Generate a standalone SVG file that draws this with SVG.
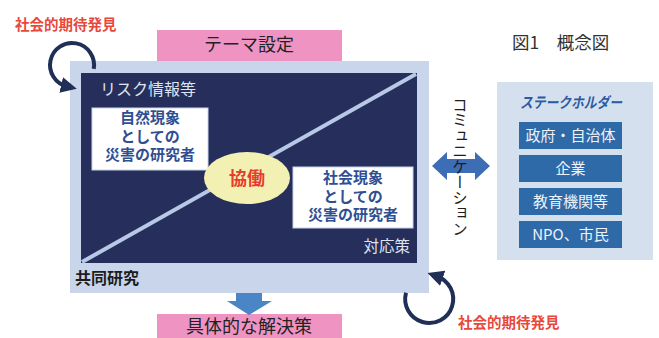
<svg xmlns="http://www.w3.org/2000/svg" width="659" height="338" viewBox="0 0 659 338">
<defs>
<style>
text{font-family:"Noto Sans CJK JP","Noto Sans CJK SC",sans-serif;}
.red{fill:#e8483b;font-weight:bold;font-size:14.5px;}
.wbox{fill:#ffffff;stroke:#c8d5ea;stroke-width:1;}
.wtxt{fill:#2f4f92;font-weight:bold;font-size:15px;text-anchor:middle;}
.pink{fill:#ee93c2;}
.bbox{fill:#2f6aa8;}
.btxt{fill:#eef2f8;font-size:15px;text-anchor:middle;}
.loop{fill:none;stroke:#1f2f55;stroke-width:4;}
</style>
<marker id="ah" markerWidth="4" markerHeight="4" refX="1.5" refY="2" orient="auto" markerUnits="strokeWidth">
<path d="M0,0 L4,2 L0,4 z" fill="#1f2f55"/>
</marker>
</defs>
<rect width="659" height="338" fill="#ffffff"/>

<g id="title">
<text x="512" y="49" font-size="17.5" fill="#333">図1　概念図</text>
</g>

<g id="theme">
<rect class="pink" x="157" y="30" width="185" height="32"/>
<text x="249" y="51" font-size="18" fill="#222" text-anchor="middle">テーマ設定</text>
</g>

<g id="kyodo">
<rect x="70" y="61" width="359" height="232" fill="#c8d5ea"/>
<rect x="81" y="73" width="336" height="190" fill="#262f5b"/>
<line x1="82" y1="262" x2="416" y2="74" stroke="#b7c9e6" stroke-width="4"/>
<text x="100" y="95" font-size="16" fill="#dde3ef">リスク情報等</text>
<text x="410" y="252" font-size="15.5" fill="#dde3ef" text-anchor="end">対応策</text>
<text x="75" y="284" font-size="16" font-weight="bold" fill="#1d1d1d">共同研究</text>
</g>

<g id="natural">
<rect class="wbox" x="92" y="108" width="116" height="62"/>
<text class="wtxt" x="150" y="123"><tspan x="150" y="123">自然現象</tspan><tspan x="150" y="141.5">としての</tspan><tspan x="150" y="160">災害の研究者</tspan></text>
</g>

<g id="social">
<rect class="wbox" x="293" y="167" width="120" height="61"/>
<text class="wtxt" x="353" y="183"><tspan x="353" y="183">社会現象</tspan><tspan x="353" y="201.5">としての</tspan><tspan x="353" y="220">災害の研究者</tspan></text>
</g>

<g id="collab">
<ellipse cx="247" cy="178" rx="43" ry="26" fill="#f3f0b4"/>
<text x="247" y="184.5" font-size="18" font-weight="bold" fill="#e63c2e" text-anchor="middle">協働</text>
</g>

<g id="solution">
<rect class="pink" x="157" y="314" width="185" height="30"/>
<text x="249" y="333" font-size="18" fill="#222" text-anchor="middle">具体的な解決策</text>
</g>

<g id="stakeholders">
<rect x="497" y="82" width="156" height="178" fill="#d5e0ef"/>
<text x="571" y="108" font-size="15" font-weight="bold" font-style="italic" fill="#2d5ba3" text-anchor="middle" textLength="102" lengthAdjust="spacingAndGlyphs">ステークホルダー</text>
<rect class="bbox" x="519" y="122" width="103" height="27"/>
<text class="btxt" x="570.5" y="141">政府・自治体</text>
<rect class="bbox" x="519" y="155" width="103" height="27"/>
<text class="btxt" x="570.5" y="174">企業</text>
<rect class="bbox" x="519" y="188" width="103" height="27"/>
<text class="btxt" x="570.5" y="207">教育機関等</text>
<rect class="bbox" x="519" y="221" width="103" height="27"/>
<text class="btxt" x="570.5" y="240">NPO、市民</text>
</g>

<g id="connectors">
<path class="loop" d="M93.7,68.8 A22,22 0 1 0 67,86.4" marker-end="url(#ah)"/>
<path class="loop" d="M406,292.8 A24,24 0 1 0 437,276.3" marker-end="url(#ah)"/>
<polygon points="236,293 262,293 262,301 272,301 249,315 227,301 236,301" fill="#4a86c5"/>
<polygon points="432,166 447,152 447,159 475,159 475,152 490,166 475,180 475,173 447,173 447,180" fill="#3d6db4"/>
</g>

<g id="communication">
<text x="460" y="97" font-size="15.5" fill="#1d1d1d" style="writing-mode:vertical-rl">コミュニケーション</text>
</g>

<g id="expect-top">
<text class="red" x="15" y="30">社会的期待発見</text>
</g>
<g id="expect-bottom">
<text class="red" x="458" y="328">社会的期待発見</text>
</g>
</svg>
